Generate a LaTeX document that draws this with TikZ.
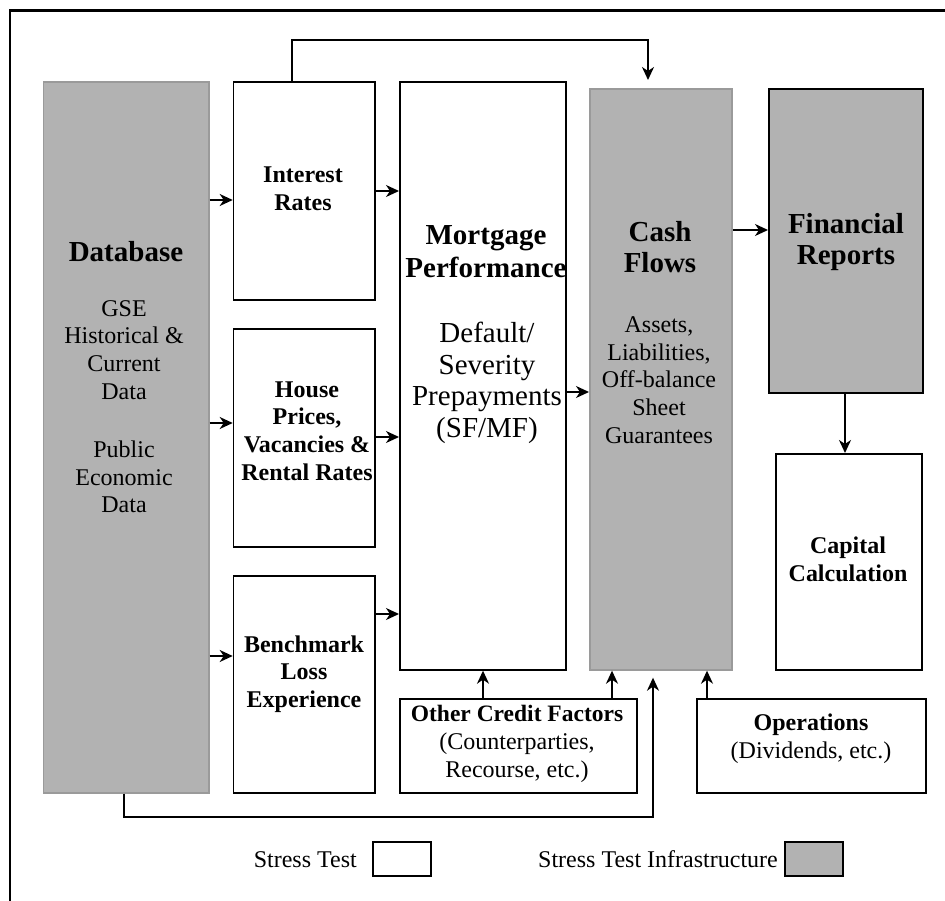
\documentclass[tikz,border=0pt]{standalone}
\usepackage{fontspec}
\setmainfont{Liberation Serif}
\usetikzlibrary{arrows.meta}
\definecolor{boxgray}{HTML}{B2B2B2}
\definecolor{edgegray}{HTML}{9A9A9A}
\tikzset{
  wbox/.style={draw=black, fill=white, line width=1.7pt, anchor=north west, inner sep=0pt},
  gbox/.style={draw=edgegray, fill=boxgray, line width=1.7pt, anchor=north west, inner sep=0pt},
  gboxk/.style={draw=black, fill=boxgray, line width=1.7pt, anchor=north west, inner sep=0pt},
  arr/.style={-{Stealth[length=13pt,width=12pt,inset=4pt]}, line width=1.6pt},
  tr/.style={align=center, inner sep=0pt, font=\fontsize{24}{27.7}\selectfont},
  tb/.style={align=center, inner sep=0pt, font=\fontsize{24}{27.7}\selectfont\bfseries},
  tbig/.style={align=center, inner sep=0pt, font=\fontsize{29}{31}\selectfont\bfseries},
  tmid/.style={align=center, inner sep=0pt, font=\fontsize{29}{31.7}\selectfont},
}
\begin{document}
\begin{tikzpicture}[x=1pt,y=-1pt]
\useasboundingbox (0,0) rectangle (945,901);
% outer frame (cut at the picture's right and bottom edges)
\draw[line width=2.4pt] (10,905) -- (10,10.7) -- (950,10.7);

% boxes
\node[gbox,  minimum width=165.3pt, minimum height=711pt] (db)  at (42.7,81) {};
\node[wbox,  minimum width=141.3pt, minimum height=218pt] (ir)  at (232.7,81) {};
\node[wbox,  minimum width=141.3pt, minimum height=218pt] (hp)  at (232.7,328) {};
\node[wbox,  minimum width=141.3pt, minimum height=217pt] (bl)  at (232.7,575) {};
\node[wbox,  minimum width=166pt,   minimum height=588pt] (mp)  at (399,81) {};
\node[gbox,  minimum width=142pt,   minimum height=581pt] (cf)  at (589,88) {};
\node[gboxk, minimum width=154pt,   minimum height=304pt] (fr)  at (768,88) {};
\node[wbox,  minimum width=146pt,   minimum height=216pt] (cc)  at (775,453) {};
\node[wbox,  minimum width=237pt,   minimum height=94pt]  (ocf) at (399,698) {};
\node[wbox,  minimum width=229pt,   minimum height=94pt]  (ops) at (696,698) {};
\node[wbox,  minimum width=58pt,    minimum height=34pt]  (lgW) at (372,841) {};
\node[gboxk, minimum width=58pt,    minimum height=34pt]  (lgG) at (784,841) {};

% texts
\node[tbig] (dbT)  at (126,252) {Database};
\node[tr]   (dbA)  at (124,350) {GSE\\Historical \&\\Current\\Data};
\node[tr]   (dbB)  at (124,477) {Public\\Economic\\Data};
\node[tb]   (irT)  at (303,189) {Interest\\Rates};
\node[tb]   (hpT)  at (307,431) {House\\Prices,\\Vacancies \&\\Rental Rates};
\node[tb]   (blT)  at (304,674) {Benchmark\\Loss\\Experience};
\node[tbig, font=\fontsize{29}{33}\selectfont\bfseries] (mpT) at (486,252) {Mortgage\\Performance};
\node[tmid] (mpB)  at (487,383) {Default/\\Severity\\Prepayments\\(SF/MF)};
\node[tbig] (cfT)  at (660,247) {Cash\\Flows};
\node[tr]   (cfB)  at (659,380) {Assets,\\Liabilities,\\Off-balance\\Sheet\\Guarantees};
\node[tbig] (frT)  at (846,242) {Financial\\Reports};
\node[tb]   (ccT)  at (848,559) {Capital\\Calculation};
\node[tr]   (ocfT) at (517,744) {{\fontsize{23.5}{27.7}\selectfont\bfseries Other Credit Factors}\\(Counterparties,\\Recourse, etc.)};
\node[tr]   (opsT) at (811,739) {{\bfseries Operations}\\(Dividends, etc.)};
\node[tr, anchor=base east] (lgWT) at (357,867) {Stress Test};
\node[tr, anchor=base east] (lgGT) at (778,867) {Stress Test Infrastructure};

% connector levels
\coordinate (yIR) at (0,200);
\coordinate (yHP) at (0,423);
\coordinate (yBL) at (0,656);
\coordinate (yIRm) at (0,191);
\coordinate (yHPm) at (0,437);
\coordinate (yBLm) at (0,614);
\coordinate (yMPc) at (0,392);
\coordinate (yCFr) at (0,230);
\coordinate (xFR) at (845,0);
\coordinate (xOm) at (483,0);
\coordinate (xOc) at (612,0);
\coordinate (xOp) at (707,0);
\coordinate (topL) at (292,40);
\coordinate (topR) at (648,40);
\coordinate (botL) at (124,817);
\coordinate (botR) at (653,817);

% connectors
\draw[arr] (db.east |- yIR) -- (ir.west |- yIR);
\draw[arr] (db.east |- yHP) -- (hp.west |- yHP);
\draw[arr] (db.east |- yBL) -- (bl.west |- yBL);
\draw[arr] (ir.east |- yIRm) -- (mp.west |- yIRm);
\draw[arr] (hp.east |- yHPm) -- (mp.west |- yHPm);
\draw[arr] (bl.east |- yBLm) -- (mp.west |- yBLm);
\draw[arr] (mp.east |- yMPc) -- (cf.west |- yMPc);
\draw[arr] (cf.east |- yCFr) -- (fr.west |- yCFr);
\draw[arr] (fr.south -| xFR) -- (cc.north -| xFR);
\draw[arr] (ocf.north -| xOm) -- (mp.south -| xOm);
\draw[arr] (ocf.north -| xOc) -- (cf.south -| xOc);
\draw[arr] (ops.north -| xOp) -- (cf.south -| xOp);
\draw[arr, shorten >=8pt] (ir.north -| topL) -- (topL) -- (topR) -- (cf.north -| topR);
\draw[arr, shorten >=7pt] (db.south -| botL) -- (botL) -- (botR) -- (cf.south -| botR);
\end{tikzpicture}
\end{document}
